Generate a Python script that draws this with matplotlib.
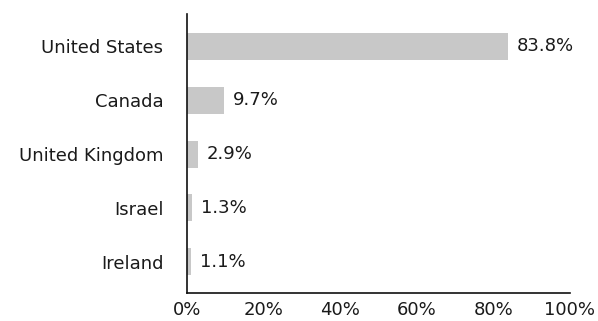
import matplotlib
matplotlib.use("Agg")
import matplotlib.pyplot as plt

countries = ["United States", "Canada", "United Kingdom", "Israel", "Ireland"]
shares = [83.8, 9.7, 2.9, 1.3, 1.1]
xticks = [0, 20, 40, 60, 80, 100]

plt.rcParams['font.family'] = ['DejaVu Sans']

fig = plt.figure(figsize=(5.98, 3.21), dpi=100)
ax = fig.add_axes([0.3127, 0.0872, 0.6403, 0.8692])

pos = list(range(len(countries)))
ax.barh(pos, shares, height=0.5, color="#c8c8c8")
for p, v in zip(pos, shares):
    ax.text(v + 2.3, p, f"{v}%", va="center", ha="left", fontsize=13, color="#1a1a1a")

ax.set_yticks(pos)
ax.set_yticklabels(countries, fontsize=13, color="#1a1a1a")
ax.set_xticks(xticks)
ax.set_xticklabels([f"{t}%" for t in xticks], fontsize=13, color="#1a1a1a")
ax.set_xlim(0, 100)
ax.set_ylim(4.58, -0.6)
ax.tick_params(axis="both", length=0)
ax.tick_params(axis="y", pad=17)
ax.tick_params(axis="x", pad=6)
for s in ["top", "right"]:
    ax.spines[s].set_visible(False)
for s in ["left", "bottom"]:
    ax.spines[s].set_linewidth(1.2)
    ax.spines[s].set_color("#111111")

fig.savefig("out.png", dpi=100)
